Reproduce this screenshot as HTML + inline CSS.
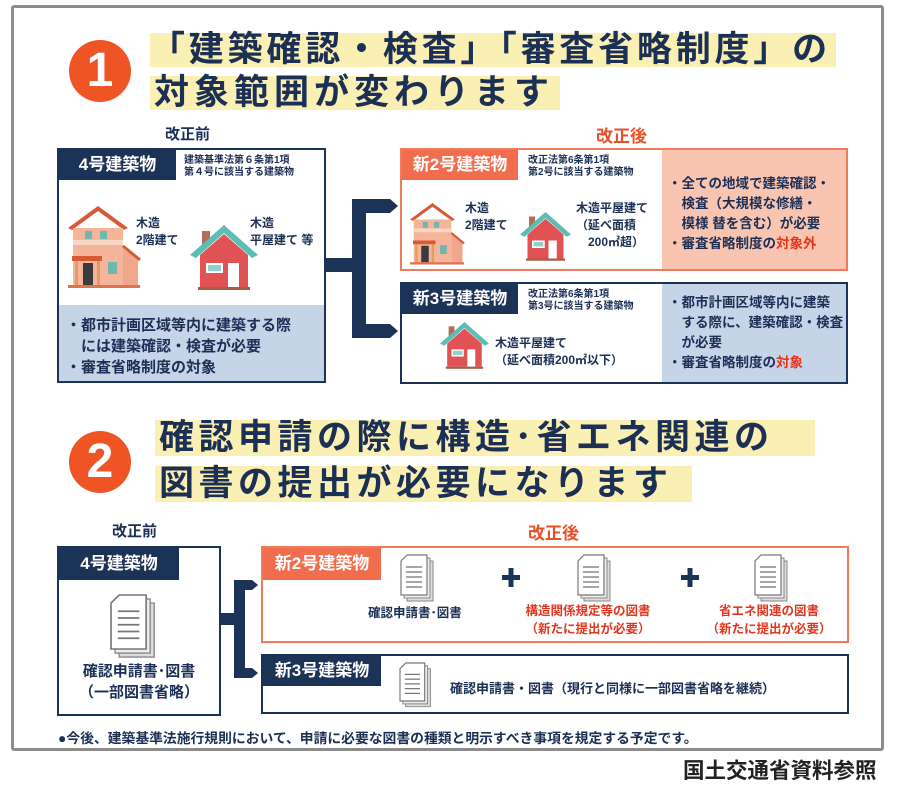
<!DOCTYPE html>
<html><head><meta charset="utf-8">
<style>
*{margin:0;padding:0;box-sizing:border-box}
body{width:899px;height:780px;background:#fff;position:relative;overflow:hidden;font-family:"Liberation Sans","Noto Sans CJK JP",sans-serif;color:#1c2f55;font-weight:bold}
.a{position:absolute}
.frame{left:11px;top:5px;width:873px;height:746px;border:3px solid #8c8c8c;border-radius:3px}
.circ{width:62px;height:62px;border-radius:50%;background:#ee5424;color:#fff;font-size:48px;text-align:center;line-height:62px;font-family:"Liberation Sans",sans-serif}
.hl{background:#fbf0b3;font-size:35px;line-height:36px;color:#1c2f55;white-space:nowrap;letter-spacing:5px}
.navy{background:#1c3358;color:#fff}
.or{background:#f06d4d;color:#fff}
.hdr{font-size:17px;text-align:center}
.sm{font-size:10px;line-height:12px;white-space:nowrap}
.t13{font-size:13px;line-height:17px;white-space:nowrap}
.t15{font-size:15px;line-height:21px;white-space:nowrap}
.red{color:#e8341c}
</style></head><body>
<div class="a frame"></div>

<div class="a circ" style="left:69px;top:40px">1</div>
<div class="a hl" style="left:150px;top:33px;width:686px;height:34px;padding-left:0;line-height:34px;letter-spacing:3.8px">「建築確認・検査」「審査省略制度」の</div>
<div class="a hl" style="left:150px;top:76px;width:410px;height:34px;padding-left:4px;line-height:34px">対象範囲が変わります</div>

<div class="a" style="left:165px;top:123px;font-size:15px">改正前</div>
<div class="a red" style="left:596px;top:122px;font-size:17px;color:#e8502a">改正後</div>

<div class="a" style="left:57px;top:148px;width:269px;height:235px;border:2px solid #1c3358;background:#fff"></div>
<div class="a" style="left:59px;top:305px;width:265px;height:76px;background:#c6d4e8"></div>
<div class="a navy hdr" style="left:59px;top:150px;width:117px;height:30px;line-height:30px">4号建築物</div>
<div class="a sm" style="left:184px;top:155px">建築基準法第６条第1項<br>第４号に該当する建築物</div>
<div class="a t13" style="left:136px;top:215px;line-height:17px;font-size:12px">木造<br>2階建て</div>
<div class="a t13" style="left:250px;top:215px;line-height:17px;font-size:12px">木造<br>平屋建て 等</div>
<div class="a t15" style="left:66px;top:315px;font-size:15px">・都市計画区域等内に建築する際<br>　には建築確認・検査が必要<br>・審査省略制度の対象</div>

<div class="a" style="left:400px;top:148px;width:448px;height:123px;border:2px solid #f07a5a;background:#fff"></div>
<div class="a" style="left:662px;top:150px;width:184px;height:119px;background:#f9c5b1"></div>
<div class="a or hdr" style="left:402px;top:150px;width:116px;height:30px;line-height:30px">新2号建築物</div>
<div class="a sm" style="left:528px;top:155px">改正法第6条第1項<br>第2号に該当する建築物</div>
<div class="a" style="left:465px;top:200px;font-size:12px;line-height:17px">木造<br>2階建て</div>
<div class="a" style="left:576px;top:200px;font-size:12px;line-height:17px;white-space:nowrap">木造平屋建て<br>（延べ面積<br>　200㎡超）</div>
<div class="a t15" style="left:668px;top:174px;font-size:13.5px;line-height:20px">・全ての地域で建築確認・<br>　検査（大規模な修繕・<br>　模様 替を含む）が必要<br>・審査省略制度の<span class="red">対象外</span></div>

<div class="a" style="left:400px;top:282px;width:448px;height:102px;border:2px solid #1c3358;background:#fff"></div>
<div class="a" style="left:662px;top:284px;width:184px;height:98px;background:#c6d4e8"></div>
<div class="a navy hdr" style="left:402px;top:284px;width:116px;height:30px;line-height:30px">新3号建築物</div>
<div class="a sm" style="left:528px;top:289px">改正法第6条第1項<br>第3号に該当する建築物</div>
<div class="a" style="left:495px;top:335px;font-size:12px;line-height:17px;white-space:nowrap">木造平屋建て<br>（延べ面積200㎡以下）</div>
<div class="a t15" style="left:668px;top:293px;font-size:13.5px;line-height:20px">・都市計画区域等内に建築<br>　する際に、建築確認・検査<br>　が必要<br>・審査省略制度の<span class="red">対象</span></div>

<div class="a circ" style="left:69px;top:431px">2</div>
<div class="a hl" style="left:155px;top:420px;width:660px;height:36px;padding-left:4px;letter-spacing:4.5px">確認申請の際に構造･省エネ関連の</div>
<div class="a hl" style="left:155px;top:466px;width:537px;height:36px;padding-left:4px;letter-spacing:4.5px">図書の提出が必要になります</div>

<div class="a" style="left:112px;top:520px;font-size:15px">改正前</div>
<div class="a" style="left:528px;top:519px;font-size:17px;color:#e8502a">改正後</div>

<div class="a" style="left:57px;top:546px;width:164px;height:170px;border:2px solid #1c3358;background:transparent"></div>
<div class="a navy hdr" style="left:59px;top:548px;width:120px;height:32px;line-height:32px">4号建築物</div>
<div class="a" style="left:59px;top:661px;width:160px;text-align:center;font-size:15px;line-height:21px">確認申請書･図書<br>（一部図書省略）</div>

<div class="a" style="left:261px;top:546px;width:588px;height:97px;border:2px solid #f07a5a"></div>
<div class="a or hdr" style="left:263px;top:548px;width:118px;height:32px;line-height:32px">新2号建築物</div>
<div class="a" style="left:368px;top:602px;font-size:12.5px;white-space:nowrap">確認申請書･図書</div>
<div class="a red" style="left:521px;top:602px;font-size:12.5px;line-height:18px;text-align:center;width:134px;color:#e2361e">構造関係規定等の図書<br>（新たに提出が必要）</div>
<div class="a red" style="left:702px;top:602px;font-size:12.5px;line-height:18px;text-align:center;width:134px;color:#e2361e">省エネ関連の図書<br>（新たに提出が必要）</div>

<div class="a" style="left:261px;top:654px;width:588px;height:60px;border:2px solid #1c3358"></div>
<div class="a navy hdr" style="left:263px;top:656px;width:118px;height:30px;line-height:30px">新3号建築物</div>
<div class="a" style="left:450px;top:678px;font-size:13px;white-space:nowrap">確認申請書・図書（現行と同様に一部図書省略を継続）</div>

<div class="a" style="left:58px;top:727px;font-size:13.8px;white-space:nowrap;color:#1c2f55">●今後、建築基準法施行規則において、申請に必要な図書の種類と明示すべき事項を規定する予定です。</div>
<div class="a" style="left:683px;top:754px;font-size:21.5px;color:#222;white-space:nowrap;font-weight:bold">国土交通省資料参照</div>

<svg class="a" style="left:0;top:0;z-index:5" width="899" height="780">
 <defs>
  <g id="h2">
   <polygon points="0,22 30,0 60,22 56,24 30,5 4,24" fill="#d85a34"/>
   <rect x="5" y="22" width="50" height="58" fill="#f4b59a"/>
   <polygon points="55,42 70,54 70,80 55,80" fill="#f0a88c"/>
   <line x1="55" y1="40" x2="72" y2="54" stroke="#d85a34" stroke-width="3"/>
   <rect x="5" y="34" width="50" height="5" fill="#f9d6c5"/>
   <rect x="17" y="25" width="7" height="8" fill="#6fb7b0"/><rect x="32" y="25" width="7" height="8" fill="#6fb7b0"/>
   <rect x="4" y="50" width="30" height="5" fill="#d85a34"/>
   <rect x="15" y="57" width="10" height="22" fill="#3b3b3b"/>
   <rect x="7" y="55" width="3" height="24" fill="#e59a5e"/><rect x="29" y="55" width="3" height="24" fill="#e59a5e"/>
   <rect x="40" y="56" width="9" height="12" fill="#6fb7b0"/>
   <rect x="0" y="79" width="72" height="3" fill="#e0734f"/>
  </g>
  <g id="h1">
   <rect x="12" y="6" width="8" height="14" fill="#b46a55"/>
   <polygon points="0,30 34,0 68,30 62,33 34,8 6,33" fill="#5cbdb5"/>
   <polygon points="10,30 34,9 58,30 58,62 10,62" fill="#e05253"/>
   <rect x="16" y="38" width="17" height="10" fill="#fff"/><rect x="18" y="40" width="13" height="6" fill="#8fd1cc"/>
   <rect x="38" y="38" width="11" height="24" fill="#fff"/>
   <rect x="8" y="62" width="52" height="3" fill="#aa5c4b"/>
  </g>
  <g id="doc">
   <path d="M6,6 h26 v40 h-26z" fill="#ddd" stroke="#888" stroke-width="1"/>
   <path d="M3,3 h26 v40 h-26z" fill="#eee" stroke="#888" stroke-width="1"/>
   <path d="M0,6 l6,-6 h20 v40 h-26z" fill="#fff" stroke="#777" stroke-width="1.2"/>
   <g stroke="#777" stroke-width="1.3"><line x1="5" y1="12" x2="21" y2="12"/><line x1="5" y1="17" x2="21" y2="17"/><line x1="5" y1="22" x2="21" y2="22"/><line x1="5" y1="27" x2="21" y2="27"/><line x1="5" y1="32" x2="21" y2="32"/></g>
  </g>
 </defs>
 <use href="#h2" x="68" y="206"/>
 <use href="#h1" x="190" y="225"/>
 <use href="#h2" transform="translate(410,203) scale(0.75)"/>
 <use href="#h1" transform="translate(520,212) scale(0.75)"/>
 <use href="#h1" transform="translate(440,322) scale(0.72)"/>
 <g fill="#1c3358">
  <rect x="326" y="258" width="32" height="14"/>
  <rect x="352" y="199" width="14" height="139"/>
  <polygon points="352,199 390,199 398,206 390,213 352,213"/>
  <polygon points="352,324 390,324 398,331 390,338 352,338"/>
 </g>
 <g fill="#1c3358">
  <rect x="220" y="613" width="22" height="12"/>
  <rect x="234" y="580" width="11" height="98"/>
  <polygon points="234,580 252,580 258,585 252,590 234,590"/>
  <polygon points="234,668 252,668 258,673 252,678 234,678"/>
 </g>
 <use href="#doc" transform="translate(111,595) scale(1.35)"/>
 <use href="#doc" x="401" y="555"/>
 <use href="#doc" x="578" y="555"/>
 <use href="#doc" x="755" y="555"/>
 <use href="#doc" transform="translate(400,663) scale(0.95)"/>
 <g fill="#1c3358"><rect x="502" y="575" width="18" height="5"/><rect x="508.5" y="568" width="5" height="19"/>
 <rect x="681" y="575" width="18" height="5"/><rect x="687.5" y="568" width="5" height="19"/></g>
</svg>
</body></html>
